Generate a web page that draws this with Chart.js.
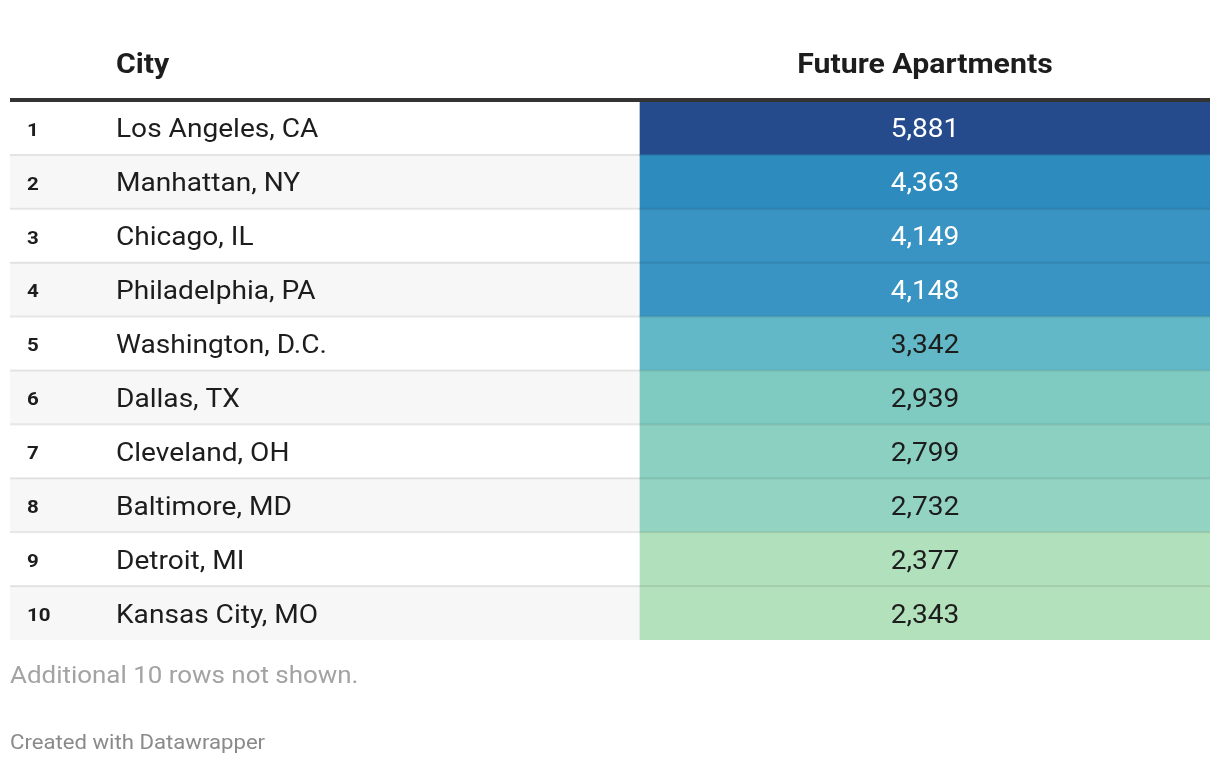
<!DOCTYPE html>
<html>
<head>
<meta charset="utf-8">
<script src="https://cdn.jsdelivr.net/npm/chart.js@4"></script>
<style>
  html, body { margin: 0; padding: 0; background: #fff; }
  #wrap { width: 1220px; height: 766px; }
</style>
</head>
<body>
<div id="wrap"><canvas id="table-chart"></canvas></div>
<script>
// Table data
const ranks = ['1', '2', '3', '4', '5', '6', '7', '8', '9', '10'];
const cities = ['Los Angeles, CA', 'Manhattan, NY', 'Chicago, IL', 'Philadelphia, PA', 'Washington, D.C.',
    'Dallas, TX', 'Cleveland, OH', 'Baltimore, MD', 'Detroit, MI', 'Kansas City, MO'];
const apartments = [5881, 4363, 4149, 4148, 3342, 2939, 2799, 2732, 2377, 2343];
const headers = ['City', 'Future Apartments'];
const note = 'Additional 10 rows not shown.';
const credit = 'Created with Datawrapper';

// Where the value column starts, as share of table width
const VALUE_COL_START = 0.525;
const FONT = 'Roboto, "Noto Sans", sans-serif';
// reference text runs a bit wider than plain Roboto
const TEXT_STRETCH = 1.08;

// Colour scale for the value cells (value -> colour stops)
const COLOR_STOPS = [
    [2343, [179, 225, 187]],
    [2732, [146, 211, 194]],
    [2939, [127, 202, 193]],
    [3342, [98, 184, 198]],
    [4148, [57, 148, 195]],
    [4363, [45, 139, 190]],
    [5881, [38, 75, 140]]
];

function colorFor(v) {
    for (let i = 1; i < COLOR_STOPS.length; i++) {
        const [v0, c0] = COLOR_STOPS[i - 1];
        const [v1, c1] = COLOR_STOPS[i];
        if (v <= v1) {
            const t = Math.max(0, (v - v0) / (v1 - v0));
            const c = c0.map((x, k) => Math.round(x + (c1[k] - x) * t));
            return `rgb(${c.join(',')})`;
        }
    }
    const last = COLOR_STOPS[COLOR_STOPS.length - 1][1];
    return `rgb(${last.join(',')})`;
}

// Dark cells get white text
function textColorFor(v) {
    return v >= 4000 ? '#ffffff' : '#1d1d1d';
}

const fmt = new Intl.NumberFormat('en-US');

// text with a slight horizontal stretch, anchored at x
function drawText(ctx, text, x, y, font, color, align) {
    ctx.save();
    ctx.font = font;
    ctx.fillStyle = color;
    ctx.textAlign = align;
    ctx.textBaseline = 'middle';
    ctx.translate(x, y);
    ctx.scale(TEXT_STRETCH, 1);
    ctx.fillText(text, 0, 0);
    ctx.restore();
}

// Draws header, row text, separators and footer around the bars
const tablePlugin = {
    id: 'tableText',
    afterDatasetsDraw(chart) {
        const { ctx, chartArea, scales } = chart;
        const yScale = scales.y;
        const xScale = scales.x;
        const rowH = yScale.getPixelForValue(1) - yScale.getPixelForValue(0);
        const valueCenter = (xScale.getPixelForValue(VALUE_COL_START) + xScale.getPixelForValue(1)) / 2;
        const cityX = 116;
        const rankX = 27;
        const width = chartArea.right - chartArea.left;

        // header
        drawText(ctx, headers[0], cityX, 66, `bold 28px ${FONT}`, '#1d1d1d', 'left');
        drawText(ctx, headers[1], valueCenter, 66, `bold 28px ${FONT}`, '#1d1d1d', 'center');

        // row separators
        ctx.save();
        ctx.fillStyle = 'rgba(0,0,0,0.09)';
        for (let i = 1; i < cities.length; i++) {
            const y = yScale.getPixelForValue(i) - rowH / 2;
            ctx.fillRect(chartArea.left, y - 1, width, 2);
        }
        // thick header rule
        ctx.fillStyle = '#333333';
        ctx.fillRect(chartArea.left, chartArea.top - 3, width, 4);
        ctx.restore();

        // rows
        cities.forEach((city, i) => {
            const y = yScale.getPixelForValue(i) + 3;
            drawText(ctx, ranks[i], rankX, y, `bold 19px ${FONT}`, '#1d1d1d', 'left');
            drawText(ctx, city, cityX, y, `26px ${FONT}`, '#1d1d1d', 'left');
            drawText(ctx, fmt.format(apartments[i]), valueCenter, y, `26px ${FONT}`, textColorFor(apartments[i]), 'center');
        });

        // footer
        drawText(ctx, note, 10, 677, `24px ${FONT}`, '#a3a3a3', 'left');
        drawText(ctx, credit, 10, 744, `20.5px ${FONT}`, '#8a8a8a', 'left');
    }
};

const ctx = document.getElementById('table-chart').getContext('2d');
new Chart(ctx, {
    type: 'bar',
    data: {
        labels: cities,
        datasets: [
            {
                // value cells, coloured by the value
                label: headers[1],
                data: apartments.map(() => [VALUE_COL_START, 1]),
                backgroundColor: apartments.map(colorFor),
                borderWidth: 0,
                grouped: false,
                order: 0
            },
            {
                // striped row backgrounds
                label: 'rows',
                data: cities.map(() => [0, 1]),
                backgroundColor: cities.map((_, i) => i % 2 ? '#f7f7f7' : '#ffffff'),
                borderWidth: 0,
                grouped: false,
                order: 1
            }
        ]
    },
    options: {
        indexAxis: 'y',
        responsive: true,
        maintainAspectRatio: false,
        animation: false,
        barPercentage: 1,
        categoryPercentage: 1,
        layout: { padding: { top: 101, bottom: 126, left: 10, right: 10 } },
        plugins: { legend: { display: false }, tooltip: { enabled: false }, title: { display: false } },
        scales: {
            x: { type: 'linear', min: 0, max: 1, display: false },
            y: { display: false, grid: { display: false } }
        }
    },
    plugins: [tablePlugin]
});
</script>
</body>
</html>
